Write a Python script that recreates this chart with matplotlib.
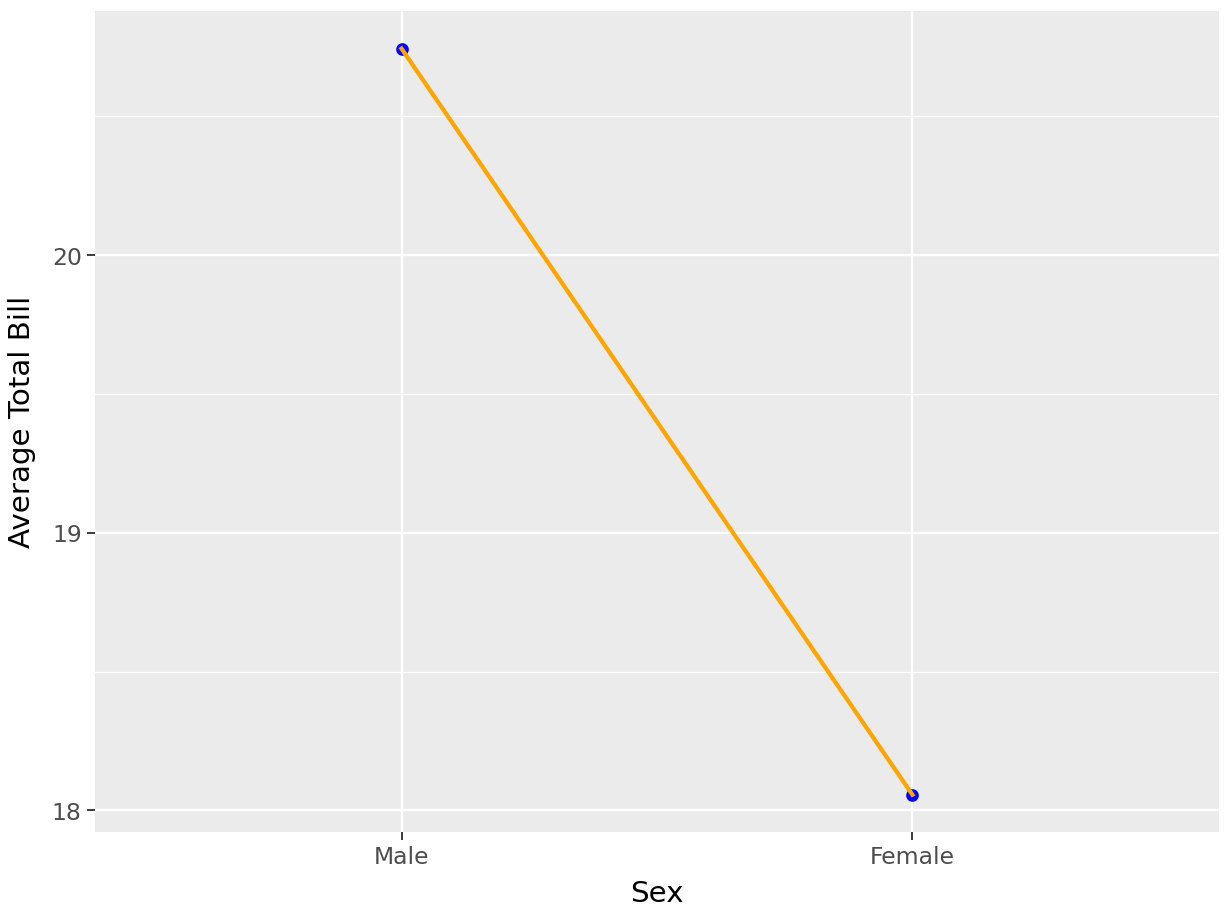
import numpy as np
import matplotlib
matplotlib.use("Agg")
import matplotlib.pyplot as plt
from matplotlib.ticker import MultipleLocator

# data: average total bill by sex
sexes = ["Male", "Female"]
avg_bill = [20.744, 18.057]

fig = plt.figure(figsize=(6.4, 4.8), dpi=192)
ax = fig.add_axes([0.0774, 0.0966, 0.9145, 0.8904])

x = np.arange(len(sexes))
ax.scatter(x, avg_bill, s=14, color="blue", zorder=3)
ax.plot(x, avg_bill, color="orange", lw=1.6, zorder=4)

# ggplot-like look
ax.set_facecolor("#EBEBEB")
for s in ax.spines.values():
    s.set_visible(False)
ax.yaxis.set_major_locator(MultipleLocator(1))
ax.yaxis.set_minor_locator(MultipleLocator(0.5))
ax.grid(which="major", color="white", lw=0.9)
ax.grid(which="minor", axis="y", color="white", lw=0.45)
ax.set_axisbelow(True)
ax.tick_params(which="minor", length=0)
ax.tick_params(which="major", length=3, width=0.7, color="#333333",
               labelcolor="#4D4D4D", labelsize=8.8, pad=2)

ax.set_xticks(x)
ax.set_xticklabels(sexes)
lo, hi = min(avg_bill), max(avg_bill)
pad = (hi - lo) * 0.05
ax.set_ylim(lo - pad, hi + pad)
ax.set_xlim(-0.6, len(sexes) - 1 + 0.6)

ax.set_xlabel("Sex", fontsize=11, labelpad=4)
ax.set_ylabel("Average Total Bill", fontsize=11, labelpad=6)

fig.savefig("out.png", dpi=192)
